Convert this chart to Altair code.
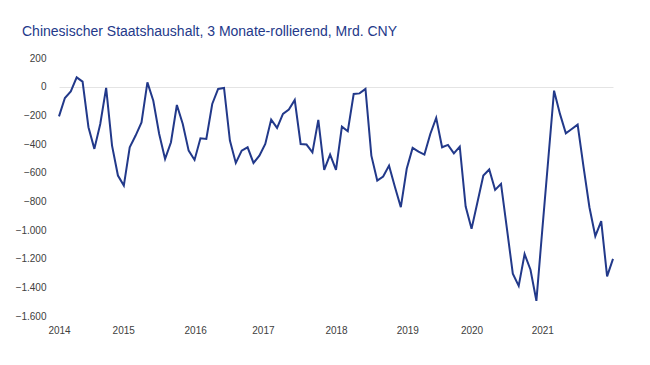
import altair as alt
import pandas as pd

# Monthly values, Jan 2014 onward (Mrd. CNY, 3-month rolling)
months = pd.date_range("2014-01-01", periods=95, freq="MS").strftime("%Y-%m").tolist()
values = [
    -207, -79, -33, 65, 35, -283, -434, -260, -9, -411, -620, -690,
    -423, -341, -249, 30, -98, -330, -504, -388, -128, -260, -446, -511,
    -360, -365, -121, -16, -9, -376, -532, -446, -423, -532, -481, -400,
    -230, -288, -190, -160, -93, -400, -404, -458, -232, -581, -474, -581,
    -279, -311, -51, -47, -16, -481, -655, -627, -551, -700, -841, -573,
    -427, -453, -474, -330, -218, -423, -406, -465, -418, -836, -992, -806,
    -620, -578, -720, -678, -990, -1305, -1390, -1168, -1277, -1494, -1000, -515,
    -28, -190, -325, -295, -265, -560, -841, -1043, -938, -1324, -1201,
]
year_labels = ["2014", "2015", "2016", "2017", "2018", "2019", "2020", "2021"]
year_label_month_index = [0, 10.9, 23.1, 34.6, 47, 59.1, 70, 82]
y_ticks = [200, 0, -200, -400, -600, -800, -1000, -1200, -1400, -1600]

title_text = "Chinesischer Staatshaushalt, 3 Monate-rollierend, Mrd. CNY"

df = pd.DataFrame({"month": months, "idx": list(range(len(values))), "value": values})

# label expression mapping tick position -> year label
expr = "''"
for i in range(len(year_labels) - 1, -1, -1):
    if i == len(year_labels) - 1:
        expr = f"'{year_labels[i]}'"
    else:
        mid = (year_label_month_index[i] + year_label_month_index[i + 1]) / 2
        expr = f"datum.value < {mid} ? '{year_labels[i]}' : ({expr})"

FONT = "Liberation Sans"
LINE_COLOR = "#22398a"
TITLE_COLOR = "#24398a"

x_enc = alt.X(
    "idx:Q",
    scale=alt.Scale(domain=[0, len(values) - 1], nice=False, zero=False),
    axis=alt.Axis(
        values=year_label_month_index,
        labelExpr=expr,
        title=None,
        domain=False,
        ticks=False,
        grid=False,
        labelPadding=9,
        labelFlush=False,
        labelOverlap=False,
        labelFontSize=10,
        labelFont=FONT,
        labelColor="#404040",
    ),
)
y_scale = alt.Scale(domain=[-1600, 200], nice=False, zero=False)

line = alt.Chart(df).mark_line(color=LINE_COLOR, strokeWidth=2).encode(
    x=x_enc,
    y=alt.Y(
        "value:Q",
        scale=y_scale,
        axis=alt.Axis(
            values=y_ticks,
            labelExpr="replace(format(datum.value, ',d'), ',', '.')",
            title=None,
            domain=False,
            ticks=False,
            grid=True,
            gridColor={"condition": {"test": "datum.value === 0", "value": "#e4e4e4"},
                       "value": "transparent"},
            gridWidth=1,
            labelPadding=13,
            labelOverlap=False,
            labelFlush=False,
            labelFontSize=10,
            labelFont=FONT,
            labelColor="#404040",
            minExtent=51,
            maxExtent=51,
        ),
    ),
).properties(
    width=554,
    height=258,
    padding={"left": 0, "top": 17, "right": 20, "bottom": 5},
    title=alt.TitleParams(
        text=title_text,
        anchor="start",
        frame="group",
        dx=-37,
        offset=14,
        fontSize=14,
        font=FONT,
        fontWeight="normal",
        color=TITLE_COLOR,
    ),
)

chart = line.configure_view(stroke=None)

chart.save("out.html", embed_options={"renderer": "svg", "actions": False})
